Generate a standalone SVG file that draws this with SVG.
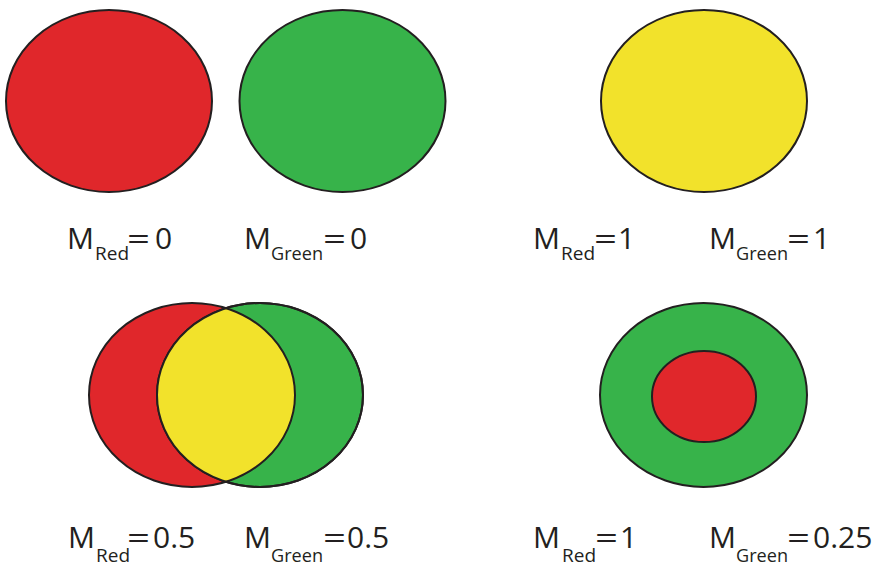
<svg xmlns="http://www.w3.org/2000/svg" width="873" height="567" viewBox="0 0 873 567">
<style>
.e{stroke:#231f20;stroke-width:2}
.r{fill:#e0272b}
.g{fill:#37b34a}
.y{fill:#f2e22b}
text{font-family:"Open Sans","Noto Sans","Liberation Sans",sans-serif;fill:#231f20}
.m{font-size:30px}
.s{font-size:19px}
</style>
<defs>
<clipPath id="cg"><ellipse cx="260" cy="395" rx="103" ry="92"/></clipPath>
</defs>
<rect width="873" height="567" fill="#fff"/>
<g id="top-red"><ellipse class="e r" cx="109" cy="101" rx="103" ry="91"/></g>
<g id="top-green"><ellipse class="e g" cx="342.5" cy="101" rx="103" ry="91"/></g>
<g id="top-yellow"><ellipse class="e y" cx="704" cy="101" rx="103" ry="91"/></g>
<g id="overlap">
<ellipse class="e r" cx="192" cy="395" rx="103" ry="92"/>
<ellipse class="e g" cx="260" cy="395" rx="103" ry="92"/>
<ellipse class="y" cx="192" cy="395" rx="103" ry="92" clip-path="url(#cg)"/>
<ellipse fill="none" class="e" cx="192" cy="395" rx="103" ry="92" clip-path="url(#cg)"/>
<ellipse fill="none" class="e" cx="260" cy="395" rx="103" ry="92"/>
</g>
<g id="nested">
<ellipse class="e g" cx="703.5" cy="395" rx="103.5" ry="92"/>
<ellipse class="e r" cx="704" cy="396.5" rx="52" ry="45.5"/>
</g>
<g id="labels">
<text class="m" x="67" y="249">M</text><text class="s" x="95" y="260">Red</text><text class="m" x="127" y="249" textLength="23" lengthAdjust="spacingAndGlyphs">=</text><text class="m" x="155" y="249">0</text>
<text class="m" x="244" y="249">M</text><text class="s" x="271" y="260" textLength="52" lengthAdjust="spacingAndGlyphs">Green</text><text class="m" x="323" y="249" textLength="23" lengthAdjust="spacingAndGlyphs">=</text><text class="m" x="350" y="249">0</text>
<text class="m" x="533" y="249">M</text><text class="s" x="561" y="260">Red</text><text class="m" x="594" y="249" textLength="23" lengthAdjust="spacingAndGlyphs">=</text><text class="m" x="618" y="249">1</text>
<text class="m" x="709" y="249">M</text><text class="s" x="736" y="260" textLength="52" lengthAdjust="spacingAndGlyphs">Green</text><text class="m" x="787" y="249" textLength="23" lengthAdjust="spacingAndGlyphs">=</text><text class="m" x="813" y="249">1</text>
<text class="m" x="68" y="548">M</text><text class="s" x="96" y="562">Red</text><text class="m" x="127" y="548" textLength="23" lengthAdjust="spacingAndGlyphs">=</text><text class="m" x="153" y="548">0.5</text>
<text class="m" x="244" y="548">M</text><text class="s" x="271" y="562" textLength="52" lengthAdjust="spacingAndGlyphs">Green</text><text class="m" x="323" y="548" textLength="23" lengthAdjust="spacingAndGlyphs">=</text><text class="m" x="347" y="548">0.5</text>
<text class="m" x="533" y="548">M</text><text class="s" x="562" y="562">Red</text><text class="m" x="595" y="548" textLength="23" lengthAdjust="spacingAndGlyphs">=</text><text class="m" x="620" y="548">1</text>
<text class="m" x="709" y="548">M</text><text class="s" x="736" y="562" textLength="52" lengthAdjust="spacingAndGlyphs">Green</text><text class="m" x="787" y="548" textLength="23" lengthAdjust="spacingAndGlyphs">=</text><text class="m" x="813" y="548">0.25</text>
</g>
</svg>
